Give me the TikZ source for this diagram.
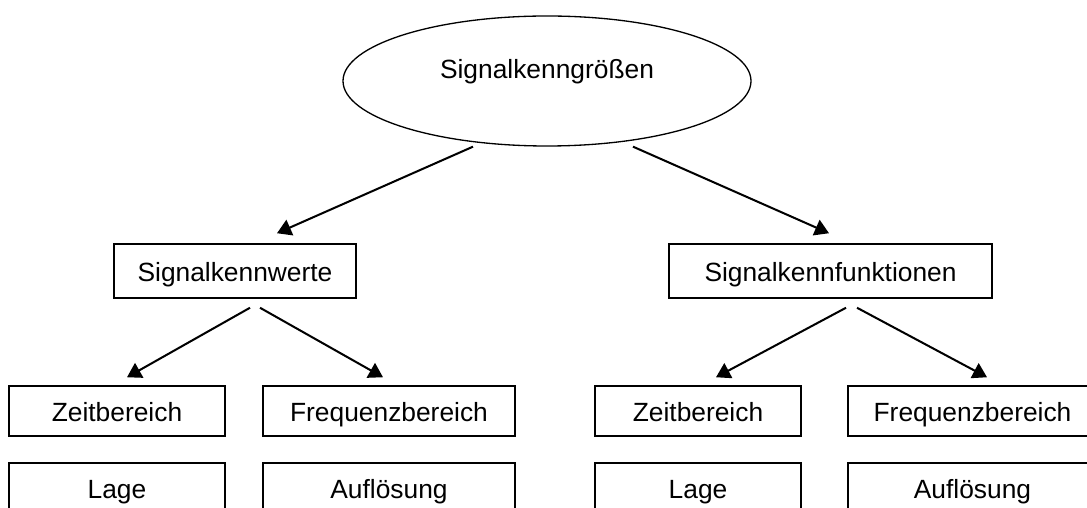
\documentclass[tikz,border=0pt]{standalone}
\usepackage{fontspec}
\setmainfont{Liberation Sans}
\usetikzlibrary{shapes.geometric,arrows.meta,calc}

\begin{document}
\begin{tikzpicture}[x=0.02cm, y=0.02cm,
        font=\fontsize{15}{18}\selectfont,
        box/.style={draw, line width=0.85pt, inner sep=0pt, minimum height=54*0.02cm,
                    text height=12pt, text depth=0.6pt},
        arr/.style={-{Triangle[length=8pt, width=9.5pt]}, line width=1.15pt}]
        \useasboundingbox (0,0) rectangle (1087,507);
        \clip (0,0) rectangle (1087,507);

        % Root
        \node[draw, ellipse, line width=0.75pt, inner sep=0pt,
              minimum width=408*0.02cm, minimum height=130*0.02cm,
              text height=12pt, text depth=14.4pt] (groessen) at (547,426) {Signalkenngrößen};

        % Second level
        \node[box, minimum width=242*0.02cm] (werte) at (235,236) {Signalkennwerte};
        \node[box, minimum width=323*0.02cm] (funktionen) at (830.5,236) {Signalkennfunktionen};

        % Left branch
        \begin{scope}[box/.append style={minimum height=50*0.02cm}]
            \node[box, minimum width=216*0.02cm] (zeitL) at (117,96) {Zeitbereich};
            \node[box, minimum width=252*0.02cm] (freqL) at (389,96) {Frequenzbereich};
            \node[box, minimum width=216*0.02cm] (lageL) at (117,19) {Lage};
            \node[box, minimum width=252*0.02cm] (aufL) at (389,19) {Auflösung};
        \end{scope}

        % Right branch
        \begin{scope}[box/.append style={minimum height=50*0.02cm}]
            \node[box, minimum width=206*0.02cm] (zeitR) at (698,96) {Zeitbereich};
            \node[box, minimum width=249*0.02cm] (freqR) at (972.5,96) {Frequenzbereich};
            \node[box, minimum width=206*0.02cm] (lageR) at (698,19) {Lage};
            \node[box, minimum width=249*0.02cm] (aufR) at (972.5,19) {Auflösung};
        \end{scope}

        % Arrows
        \draw[arr] ($(groessen.south)+(-74,0)$) -- ($(werte.north)+(42,10)$);
        \draw[arr] ($(groessen.south)+(86,0)$) -- ($(funktionen.north)+(-1.5,10)$);
        \draw[arr] ($(werte.south)+(15,-9)$) -- ($(zeitL.north)+(10,8)$);
        \draw[arr] ($(werte.south)+(25,-9)$) -- ($(freqL.north)+(-6,8)$);
        \draw[arr] ($(funktionen.south)+(15.5,-9)$) -- ($(zeitR.north)+(18,8)$);
        \draw[arr] ($(funktionen.south)+(26.5,-9)$) -- ($(freqR.north)+(14.5,8)$);
    \end{tikzpicture}
\end{document}
